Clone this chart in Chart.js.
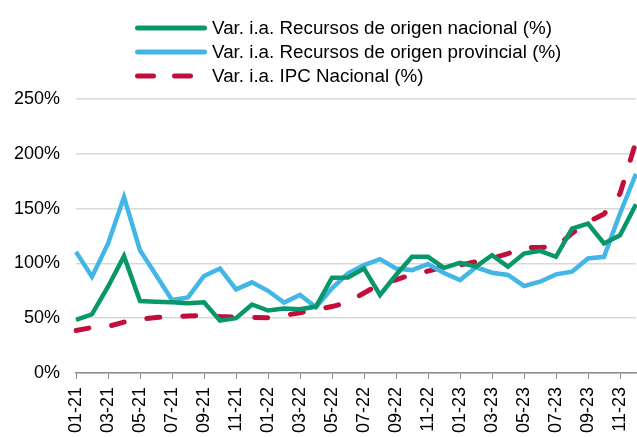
<!DOCTYPE html>
<html>
<head>
<meta charset="utf-8">
<script src="https://cdn.jsdelivr.net/npm/chart.js@4/dist/chart.umd.min.js"></script>
<style>
  html, body { margin: 0; padding: 0; background: #ffffff; }
  #wrap { width: 637px; height: 438px; position: relative; }
</style>
</head>
<body>
<div id="wrap"><canvas id="c" width="637" height="438"></canvas></div>
<script>
// ---- Data ----
const categories = [
  '01-21','02-21','03-21','04-21','05-21','06-21','07-21','08-21','09-21','10-21','11-21','12-21',
  '01-22','02-22','03-22','04-22','05-22','06-22','07-22','08-22','09-22','10-22','11-22','12-22',
  '01-23','02-23','03-23','04-23','05-23','06-23','07-23','08-23','09-23','10-23','11-23','12-23'
];

const recursosNacional = [
  48.5, 53.6, 78.7, 106.6, 65.7, 65.1, 64.5, 63.6, 64.5, 47.8, 50.0, 62.5,
  57.0, 58.8, 58.2, 60.6, 87.0, 87.2, 95.4, 71.2, 89.4, 106.0, 106.0, 96.0,
  100.6, 97.0, 107.5, 97.0, 109.0, 111.5, 106.0, 131.8, 136.4, 118.2, 125.7, 153.9
];

const recursosProvincial = [
  110.5, 87.8, 118.0, 160.5, 112.0, 89.4, 66.6, 69.0, 88.5, 95.4, 76.3, 82.7,
  75.0, 64.2, 71.2, 60.0, 77.3, 91.0, 98.5, 103.9, 95.4, 93.9, 99.4, 91.2,
  84.8, 96.4, 91.5, 89.4, 79.4, 83.3, 90.0, 92.4, 104.5, 106.0, 145.5, 181.8
];

const ipcNacional = [
  38.8, 41.5, 42.5, 46.4, 49.0, 50.6, 51.5, 52.0, 52.4, 51.5, 51.0, 50.6,
  50.5, 52.5, 55.0, 58.0, 60.6, 64.5, 73.0, 81.0, 85.0, 90.0, 93.0, 97.0,
  98.5, 101.5, 104.5, 109.0, 114.5, 114.5, 115.0, 127.5, 137.8, 145.0, 163.6, 211.0
];

const seriesLabels = [
  'Var. i.a. Recursos de origen nacional (%)',
  'Var. i.a. Recursos de origen provincial (%)',
  'Var. i.a. IPC Nacional (%)'
];

const yTicks = [0, 50, 100, 150, 200, 250];

// ---- Styles ----
const FONT = '"Liberation Sans", Arial, sans-serif';
const GREEN = '#08976a';
const BLUE = '#44b6e6';
const RED = '#c20e3a';

// Custom stacked, left-aligned legend (rows like the reference)
const stackedLegend = {
  id: 'stackedLegend',
  afterDraw(chart) {
    const ctx = chart.ctx;
    const x0 = 135, lineLen = 72, textX = 212, rowY0 = 28, rowGap = 24;
    chart.data.datasets.forEach((ds, i) => {
      const y = rowY0 + i * rowGap;
      ctx.save();
      ctx.strokeStyle = ds.borderColor;
      ctx.lineWidth = 5;
      ctx.lineCap = 'round';
      if (ds.borderDash && ds.borderDash.length) {
        ctx.setLineDash([16, 21]);
        ctx.lineDashOffset = 0;
      }
      ctx.beginPath();
      ctx.moveTo(x0 + 2.5, y);
      ctx.lineTo(x0 + lineLen - 2.5, y);
      ctx.stroke();
      ctx.setLineDash([]);
      ctx.fillStyle = '#000000';
      ctx.font = '18.8px ' + FONT;
      ctx.textBaseline = 'middle';
      ctx.textAlign = 'left';
      ctx.fillText(ds.label, textX, y + 1);
      ctx.restore();
    });
  }
};

new Chart(document.getElementById('c'), {
  type: 'line',
  data: {
    labels: categories,
    datasets: [
      {
        label: seriesLabels[0],
        data: recursosNacional,
        borderColor: GREEN,
        backgroundColor: GREEN,
        borderWidth: 4.5,
        pointRadius: 0,
        tension: 0,
        borderJoinStyle: 'miter'
      },
      {
        label: seriesLabels[1],
        data: recursosProvincial,
        borderColor: BLUE,
        backgroundColor: BLUE,
        borderWidth: 4.5,
        pointRadius: 0,
        tension: 0,
        borderJoinStyle: 'miter'
      },
      {
        label: seriesLabels[2],
        data: ipcNacional,
        borderColor: RED,
        backgroundColor: RED,
        borderWidth: 5,
        borderDash: [13, 23],
        borderCapStyle: 'round',
        pointRadius: 0,
        tension: 0
      }
    ]
  },
  options: {
    responsive: false,
    animation: false,
    devicePixelRatio: 1,
    layout: { padding: { top: 99, right: 1, bottom: 0, left: 12 } },
    plugins: {
      legend: { display: false },
      tooltip: { enabled: false }
    },
    scales: {
      x: {
        offset: false,
        afterFit: function (scale) {
          scale.paddingLeft = 0;
          scale.paddingRight = 0;
          scale.height = 65;
        },
        grid: {
          display: true,
          drawOnChartArea: false,
          drawTicks: true,
          tickLength: 6,
          color: '#8c8c8c',
          lineWidth: 1
        },
        border: { display: true, color: '#8c8c8c', width: 1.5 },
        ticks: {
          autoSkip: false,
          maxRotation: 90,
          minRotation: 90,
          padding: 8,
          color: '#000000',
          font: { family: FONT, size: 18 },
          callback: function (value, index) {
            return index % 2 === 0 ? categories[index] : null;
          }
        }
      },
      y: {
        min: yTicks[0],
        max: yTicks[yTicks.length - 1],
        afterBuildTicks: function (scale) {
          scale.ticks = yTicks.map(v => ({ value: v }));
        },
        afterFit: function (scale) {
          scale.paddingTop = 0;
          scale.paddingBottom = 0;
          scale.width = 64;
        },
        grid: {
          color: '#d9d9d9',
          lineWidth: 1.5,
          drawTicks: false
        },
        border: { display: false },
        ticks: {
          padding: 16,
          color: '#000000',
          font: { family: FONT, size: 18 },
          callback: function (value) { return value + '%'; }
        }
      }
    }
  },
  plugins: [stackedLegend]
});
</script>
</body>
</html>
